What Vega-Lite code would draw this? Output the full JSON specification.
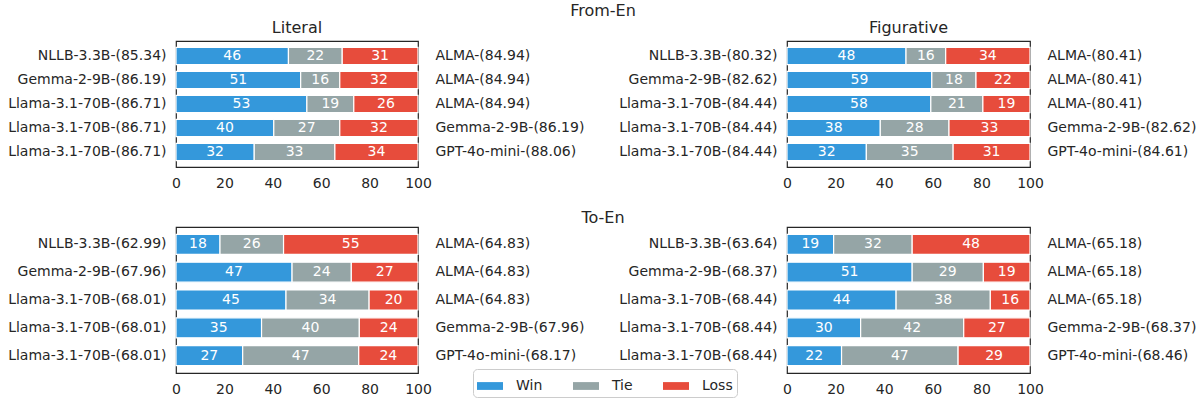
{
  "$schema": "https://vega.github.io/schema/vega-lite/v6.json",
  "padding": {"left": 5, "top": 3, "right": 5, "bottom": 3},
  "datasets": {
    "rows": [
      {"dir": "From-En", "type": "Literal", "pair": "NLLB-3.3B-(85.34) vs ALMA-(84.94)", "Win": 46, "Tie": 22, "Loss": 31},
      {"dir": "From-En", "type": "Literal", "pair": "Gemma-2-9B-(86.19) vs ALMA-(84.94)", "Win": 51, "Tie": 16, "Loss": 32},
      {"dir": "From-En", "type": "Literal", "pair": "Llama-3.1-70B-(86.71) vs ALMA-(84.94)", "Win": 53, "Tie": 19, "Loss": 26},
      {"dir": "From-En", "type": "Literal", "pair": "Llama-3.1-70B-(86.71) vs Gemma-2-9B-(86.19)", "Win": 40, "Tie": 27, "Loss": 32},
      {"dir": "From-En", "type": "Literal", "pair": "Llama-3.1-70B-(86.71) vs GPT-4o-mini-(88.06)", "Win": 32, "Tie": 33, "Loss": 34},
      {"dir": "From-En", "type": "Figurative", "pair": "NLLB-3.3B-(80.32) vs ALMA-(80.41)", "Win": 48, "Tie": 16, "Loss": 34},
      {"dir": "From-En", "type": "Figurative", "pair": "Gemma-2-9B-(82.62) vs ALMA-(80.41)", "Win": 59, "Tie": 18, "Loss": 22},
      {"dir": "From-En", "type": "Figurative", "pair": "Llama-3.1-70B-(84.44) vs ALMA-(80.41)", "Win": 58, "Tie": 21, "Loss": 19},
      {"dir": "From-En", "type": "Figurative", "pair": "Llama-3.1-70B-(84.44) vs Gemma-2-9B-(82.62)", "Win": 38, "Tie": 28, "Loss": 33},
      {"dir": "From-En", "type": "Figurative", "pair": "Llama-3.1-70B-(84.44) vs GPT-4o-mini-(84.61)", "Win": 32, "Tie": 35, "Loss": 31},
      {"dir": "To-En", "type": "Literal", "pair": "NLLB-3.3B-(62.99) vs ALMA-(64.83)", "Win": 18, "Tie": 26, "Loss": 55},
      {"dir": "To-En", "type": "Literal", "pair": "Gemma-2-9B-(67.96) vs ALMA-(64.83)", "Win": 47, "Tie": 24, "Loss": 27},
      {"dir": "To-En", "type": "Literal", "pair": "Llama-3.1-70B-(68.01) vs ALMA-(64.83)", "Win": 45, "Tie": 34, "Loss": 20},
      {"dir": "To-En", "type": "Literal", "pair": "Llama-3.1-70B-(68.01) vs Gemma-2-9B-(67.96)", "Win": 35, "Tie": 40, "Loss": 24},
      {"dir": "To-En", "type": "Literal", "pair": "Llama-3.1-70B-(68.01) vs GPT-4o-mini-(68.17)", "Win": 27, "Tie": 47, "Loss": 24},
      {"dir": "To-En", "type": "Figurative", "pair": "NLLB-3.3B-(63.64) vs ALMA-(65.18)", "Win": 19, "Tie": 32, "Loss": 48},
      {"dir": "To-En", "type": "Figurative", "pair": "Gemma-2-9B-(68.37) vs ALMA-(65.18)", "Win": 51, "Tie": 29, "Loss": 19},
      {"dir": "To-En", "type": "Figurative", "pair": "Llama-3.1-70B-(68.44) vs ALMA-(65.18)", "Win": 44, "Tie": 38, "Loss": 16},
      {"dir": "To-En", "type": "Figurative", "pair": "Llama-3.1-70B-(68.44) vs Gemma-2-9B-(68.37)", "Win": 30, "Tie": 42, "Loss": 27},
      {"dir": "To-En", "type": "Figurative", "pair": "Llama-3.1-70B-(68.44) vs GPT-4o-mini-(68.46)", "Win": 22, "Tie": 47, "Loss": 29}
    ]
  },
  "data": {"name": "rows"},
  "vconcat": [
    {
      "title": {"text": "From-En", "anchor": "middle", "offset": 0},
      "spacing": 27,
      "hconcat": [
        {
          "width": 242, "height": 126,
          "title": {"text": "Literal", "offset": 5},
          "transform": [{"filter": "datum.dir === 'From-En' && datum.type === 'Literal'"}, {"fold": ["Win", "Tie", "Loss"], "as": ["outcome", "value"]}],
          "encoding": {
            "y": {"field": "pair", "type": "nominal", "sort": null, "title": null, "scale": {"paddingInner": 0.28, "paddingOuter": 0.265}},
            "order": {"field": "outcome", "sort": "descending"}
          },
          "layer": [
            {"mark": {"type": "bar", "stroke": "white", "strokeWidth": 1.2},
             "encoding": {
               "x": {"field": "value", "type": "quantitative", "stack": "normalize", "title": null, "scale": {"domain": [0, 1], "nice": false}, "axis": {"values": [0, 0.2, 0.4, 0.6, 0.8, 1], "labelExpr": "format(datum.value*100,'d')", "labelPadding": 9, "labelFlush": false}},
               "color": {"field": "outcome", "type": "nominal", "scale": {"domain": ["Win", "Tie", "Loss"], "range": ["#3498db", "#95a5a6", "#e74c3c"]}, "legend": {"orient": "none", "legendX": 297, "legendY": 328, "direction": "horizontal", "title": null}},
               "y": {"field": "pair", "type": "nominal", "sort": null, "axis": {"orient": "left", "labelExpr": "split(datum.label,' vs ')[0]", "labelPadding": 10, "minExtent": 170, "maxExtent": 170}}
             }},
            {"mark": {"type": "text", "color": "white", "fontSize": 14},
             "encoding": {
               "x": {"field": "value", "type": "quantitative", "stack": "normalize", "bandPosition": 0.5},
               "detail": {"field": "outcome"},
               "text": {"field": "value", "type": "quantitative", "format": "d"},
               "y": {"field": "pair", "type": "nominal", "sort": null, "axis": {"orient": "right", "labelExpr": "split(datum.label,' vs ')[1]", "labelPadding": 17, "minExtent": 170, "maxExtent": 170}}
             }}
          ],
          "resolve": {"axis": {"y": "independent"}}
        },
        {
          "width": 243, "height": 126,
          "title": {"text": "Figurative", "offset": 5},
          "transform": [{"filter": "datum.dir === 'From-En' && datum.type === 'Figurative'"}, {"fold": ["Win", "Tie", "Loss"], "as": ["outcome", "value"]}],
          "encoding": {
            "y": {"field": "pair", "type": "nominal", "sort": null, "title": null, "scale": {"paddingInner": 0.28, "paddingOuter": 0.265}},
            "order": {"field": "outcome", "sort": "descending"}
          },
          "layer": [
            {"mark": {"type": "bar", "stroke": "white", "strokeWidth": 1.2},
             "encoding": {
               "x": {"field": "value", "type": "quantitative", "stack": "normalize", "title": null, "scale": {"domain": [0, 1], "nice": false}, "axis": {"values": [0, 0.2, 0.4, 0.6, 0.8, 1], "labelExpr": "format(datum.value*100,'d')", "labelPadding": 9, "labelFlush": false}},
               "color": {"field": "outcome", "type": "nominal", "scale": {"domain": ["Win", "Tie", "Loss"], "range": ["#3498db", "#95a5a6", "#e74c3c"]}},
               "y": {"field": "pair", "type": "nominal", "sort": null, "axis": {"orient": "left", "labelExpr": "split(datum.label,' vs ')[0]", "labelPadding": 10, "minExtent": 170, "maxExtent": 170}}
             }},
            {"mark": {"type": "text", "color": "white", "fontSize": 14},
             "encoding": {
               "x": {"field": "value", "type": "quantitative", "stack": "normalize", "bandPosition": 0.5},
               "detail": {"field": "outcome"},
               "text": {"field": "value", "type": "quantitative", "format": "d"},
               "y": {"field": "pair", "type": "nominal", "sort": null, "axis": {"orient": "right", "labelExpr": "split(datum.label,' vs ')[1]", "labelPadding": 17, "minExtent": 170, "maxExtent": 170}}
             }}
          ],
          "resolve": {"axis": {"y": "independent"}}
        }
      ]
    },
    {
      "title": {"text": "To-En", "anchor": "middle", "offset": 0},
      "spacing": 27,
      "hconcat": [
        {
          "width": 242, "height": 146,
          "transform": [{"filter": "datum.dir === 'To-En' && datum.type === 'Literal'"}, {"fold": ["Win", "Tie", "Loss"], "as": ["outcome", "value"]}],
          "encoding": {
            "y": {"field": "pair", "type": "nominal", "sort": null, "title": null, "scale": {"paddingInner": 0.28, "paddingOuter": 0.265}},
            "order": {"field": "outcome", "sort": "descending"}
          },
          "layer": [
            {"mark": {"type": "bar", "stroke": "white", "strokeWidth": 1.2},
             "encoding": {
               "x": {"field": "value", "type": "quantitative", "stack": "normalize", "title": null, "scale": {"domain": [0, 1], "nice": false}, "axis": {"values": [0, 0.2, 0.4, 0.6, 0.8, 1], "labelExpr": "format(datum.value*100,'d')", "labelPadding": 9, "labelFlush": false}},
               "color": {"field": "outcome", "type": "nominal", "scale": {"domain": ["Win", "Tie", "Loss"], "range": ["#3498db", "#95a5a6", "#e74c3c"]}},
               "y": {"field": "pair", "type": "nominal", "sort": null, "axis": {"orient": "left", "labelExpr": "split(datum.label,' vs ')[0]", "labelPadding": 10, "minExtent": 170, "maxExtent": 170}}
             }},
            {"mark": {"type": "text", "color": "white", "fontSize": 14},
             "encoding": {
               "x": {"field": "value", "type": "quantitative", "stack": "normalize", "bandPosition": 0.5},
               "detail": {"field": "outcome"},
               "text": {"field": "value", "type": "quantitative", "format": "d"},
               "y": {"field": "pair", "type": "nominal", "sort": null, "axis": {"orient": "right", "labelExpr": "split(datum.label,' vs ')[1]", "labelPadding": 17, "minExtent": 170, "maxExtent": 170}}
             }}
          ],
          "resolve": {"axis": {"y": "independent"}}
        },
        {
          "width": 243, "height": 146,
          "transform": [{"filter": "datum.dir === 'To-En' && datum.type === 'Figurative'"}, {"fold": ["Win", "Tie", "Loss"], "as": ["outcome", "value"]}],
          "encoding": {
            "y": {"field": "pair", "type": "nominal", "sort": null, "title": null, "scale": {"paddingInner": 0.28, "paddingOuter": 0.265}},
            "order": {"field": "outcome", "sort": "descending"}
          },
          "layer": [
            {"mark": {"type": "bar", "stroke": "white", "strokeWidth": 1.2},
             "encoding": {
               "x": {"field": "value", "type": "quantitative", "stack": "normalize", "title": null, "scale": {"domain": [0, 1], "nice": false}, "axis": {"values": [0, 0.2, 0.4, 0.6, 0.8, 1], "labelExpr": "format(datum.value*100,'d')", "labelPadding": 9, "labelFlush": false}},
               "color": {"field": "outcome", "type": "nominal", "scale": {"domain": ["Win", "Tie", "Loss"], "range": ["#3498db", "#95a5a6", "#e74c3c"]}},
               "y": {"field": "pair", "type": "nominal", "sort": null, "axis": {"orient": "left", "labelExpr": "split(datum.label,' vs ')[0]", "labelPadding": 10, "minExtent": 170, "maxExtent": 170}}
             }},
            {"mark": {"type": "text", "color": "white", "fontSize": 14},
             "encoding": {
               "x": {"field": "value", "type": "quantitative", "stack": "normalize", "bandPosition": 0.5},
               "detail": {"field": "outcome"},
               "text": {"field": "value", "type": "quantitative", "format": "d"},
               "y": {"field": "pair", "type": "nominal", "sort": null, "axis": {"orient": "right", "labelExpr": "split(datum.label,' vs ')[1]", "labelPadding": 17, "minExtent": 170, "maxExtent": 170}}
             }}
          ],
          "resolve": {"axis": {"y": "independent"}}
        }
      ]
    }
  ],
  "spacing": 19,
  "config": {
    "font": "DejaVu Sans",
    "view": {"stroke": "#262626", "strokeWidth": 1.2},
    "axis": {"ticks": false, "domain": false, "grid": false, "labelFontSize": 14, "labelColor": "#262626", "title": null},
    "title": {"fontSize": 16, "fontWeight": "normal", "color": "#262626"},
    "legend": {
      "symbolType": "M-1,-0.3H1V0.3H-1Z",
      "symbolSize": 676,
      "symbolStrokeWidth": 0,
      "labelFontSize": 14,
      "labelColor": "#262626",
      "labelOffset": 13,
      "columnPadding": 30,
      "strokeColor": "#cccccc",
      "fillColor": "white",
      "cornerRadius": 4,
      "padding": 4
    }
  }
}
